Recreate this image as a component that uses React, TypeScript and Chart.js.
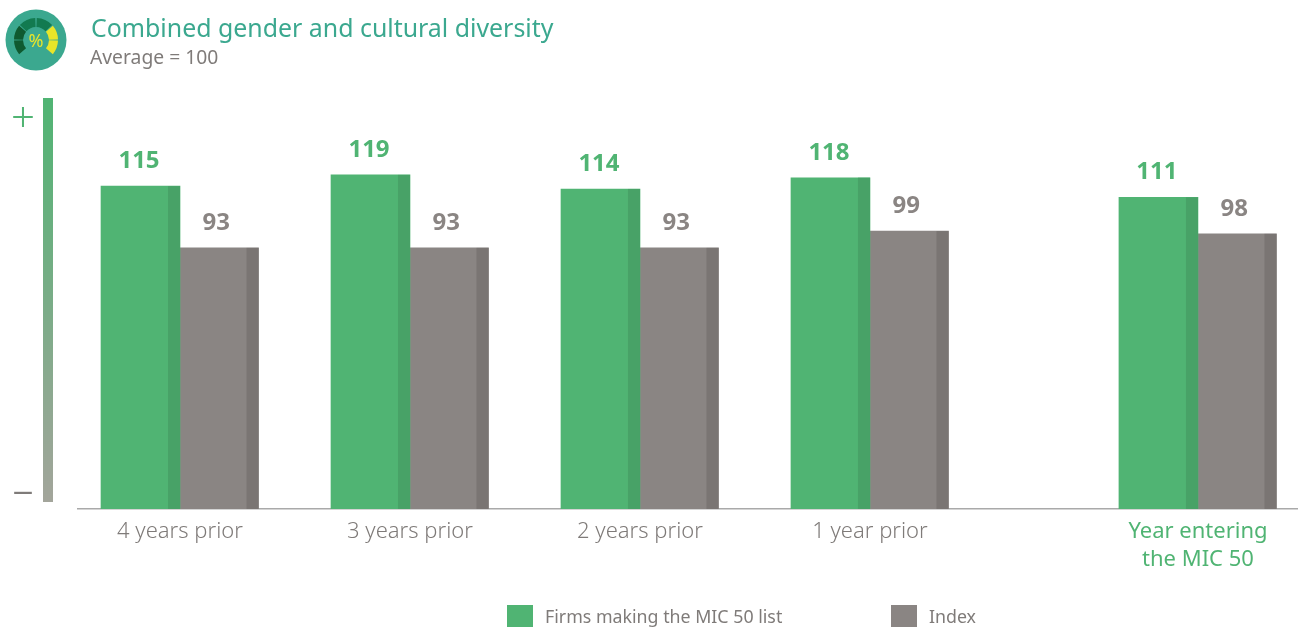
import React, { useEffect, useRef } from "react";
import { Chart, registerables, Plugin } from "chart.js";

Chart.register(...registerables);

const categories: (string | string[])[] = [
  "4 years prior",
  "3 years prior",
  "2 years prior",
  "1 year prior",
  ["Year entering", "the MIC 50"],
];
const firms = [115, 119, 114, 118, 111];
const index = [93, 93, 93, 99, 98];
const seriesNames = ["Firms making the MIC 50 list", "Index"];
const title = "Combined gender and cultural diversity";
const subtitle = "Average = 100";

const GREEN = "#50B473";
const GREEN_DARK = "#48A267";
const GREY = "#8A8583";
const GREY_DARK = "#7A7573";
const TEXT_GREY = "#7F7B79";
const FONT = '"Noto Sans", sans-serif';

// the last group stands apart from the others
const GAP_BEFORE_LAST = 0.426;
const slot = (i: number) => (i === categories.length - 1 ? i + GAP_BEFORE_LAST : i);

const barDecor: Plugin<"bar"> = {
  id: "barDecor",
  afterDatasetsDraw(chart) {
    const ctx = chart.ctx;
    chart.data.datasets.forEach((ds, d) => {
      const meta = chart.getDatasetMeta(d);
      meta.data.forEach((el: any, i) => {
        const p = el.getProps(["x", "y", "base", "width"], true);
        const right = p.x + p.width / 2;
        ctx.save();
        ctx.fillStyle = d === 0 ? GREEN_DARK : GREY_DARK;
        ctx.fillRect(right - 12, p.y, 12, p.base - p.y);
        ctx.fillStyle = d === 0 ? GREEN : GREY;
        ctx.font = `700 24px ${FONT}`;
        ctx.textAlign = "center";
        ctx.textBaseline = "middle";
        ctx.fillText(String(ds.data[i] && (ds.data[i] as any).y), p.x - (d === 0 ? 1.5 : 3), p.y - 25);
        ctx.restore();
      });
    });
  },
};

function Icon() {
  const arc = (a0: number, a1: number, color: string) => {
    const r = 17.5;
    const rad = (a: number) => (a * Math.PI) / 180;
    const x0 = 36 + r * Math.sin(rad(a0));
    const y0 = 40 - r * Math.cos(rad(a0));
    const x1 = 36 + r * Math.sin(rad(a1));
    const y1 = 40 - r * Math.cos(rad(a1));
    return <path d={`M${x0} ${y0} A${r} ${r} 0 0 1 ${x1} ${y1}`} stroke={color} strokeWidth={9} fill="none" />;
  };
  return (
    <svg width={72} height={72} style={{ position: "absolute", left: 0, top: 0 }}>
      <circle cx={36} cy={40} r={30.5} fill="#3BA88F" />
      {arc(-130, -91.5, "#0F5A30")}
      {arc(-88.5, -50, "#0F5A30")}
      {arc(-47, -2, "#127A50")}
      {arc(2, 47, "#127A50")}
      {arc(50, 88.5, "#E8E52A")}
      {arc(91.5, 130, "#E8E52A")}
      <text x={36} y={47} textAnchor="middle" fontFamily={FONT} fontSize={18} fill="#E8E52A">%</text>
    </svg>
  );
}

const abs = (left: number, top: number): React.CSSProperties => ({
  position: "absolute",
  left,
  top,
  whiteSpace: "nowrap",
  fontFamily: FONT,
});

export default function App() {
  const ref = useRef<HTMLCanvasElement>(null);
  useEffect(() => {
    document.body.style.margin = "0";
    const chart = new Chart(ref.current!, {
      type: "bar",
      data: {
        labels: categories as any,
        datasets: [
          {
            label: seriesNames[0],
            data: firms.map((y, i) => ({ x: slot(i), y })) as any,
            backgroundColor: GREEN,
            barThickness: 79,
          },
          {
            label: seriesNames[1],
            data: index.map((y, i) => ({ x: slot(i), y })) as any,
            backgroundColor: GREY,
            barThickness: 78.5,
          },
        ],
      },
      options: {
        animation: false,
        responsive: false,
        layout: { padding: { left: 78, top: 98, right: 0, bottom: 0 } },
        plugins: { legend: { display: false }, tooltip: { enabled: false } },
        scales: {
          x: {
            type: "linear",
            offset: false,
            min: -0.4435,
            max: 4.861,
            grid: { display: false, drawTicks: false },
            border: { color: "#A9A9A9", width: 1.5 },
            afterBuildTicks: (s: any) => {
              s.ticks = categories.map((_, i) => ({ value: slot(i) }));
            },
            afterFit: (s: any) => {
              s.height = 118;
            },
            ticks: {
              autoSkip: false,
              maxRotation: 0,
              padding: 9,
              font: (c: any) => ({
                family: FONT,
                size: 22,
                weight: c.index === categories.length - 1 ? 400 : 300,
                lineHeight: 1.25,
              }),
              color: (c: any) => (c.index === categories.length - 1 ? GREEN : TEXT_GREY),
              callback: (_v: any, i: number) => categories[i],
            },
          },
          y: { display: false, min: 0, max: 146.4, beginAtZero: true },
        },
      },
      plugins: [barDecor as any],
    });
    return () => chart.destroy();
  }, []);

  return (
    <div style={{ position: "relative", width: 1298, height: 627, overflow: "hidden", background: "#fff" }}>
      <canvas ref={ref} width={1298} height={627} style={{ position: "absolute", left: 0, top: 0, width: 1298, height: 627 }} />
      <Icon />
      <div style={{ ...abs(91, 10), fontSize: 24.9, color: "#3BA88F", lineHeight: "34px" }}>{title}</div>
      <div style={{ ...abs(90, 44), fontSize: 19.3, color: TEXT_GREY, lineHeight: "26px" }}>{subtitle}</div>
      <div
        style={{
          position: "absolute",
          left: 43,
          top: 98,
          width: 10,
          height: 404,
          background: "linear-gradient(to bottom, #50B473, #A3A59B)",
        }}
      />
      <div style={{ ...abs(8, 93), width: 30, textAlign: "center", fontSize: 42, fontWeight: 300, color: GREEN, lineHeight: "46px" }}>+</div>
      <div style={{ ...abs(8, 465), width: 30, textAlign: "center", fontSize: 42, fontWeight: 300, color: TEXT_GREY, lineHeight: "46px" }}>–</div>
      <div style={{ position: "absolute", left: 507, top: 605, width: 26, height: 22, background: GREEN }} />
      <div style={{ ...abs(545, 604), fontSize: 17.8, color: TEXT_GREY, lineHeight: "24px" }}>{seriesNames[0]}</div>
      <div style={{ position: "absolute", left: 891, top: 605, width: 26, height: 22, background: GREY }} />
      <div style={{ ...abs(929, 604), fontSize: 17.8, color: TEXT_GREY, lineHeight: "24px" }}>{seriesNames[1]}</div>
    </div>
  );
}
